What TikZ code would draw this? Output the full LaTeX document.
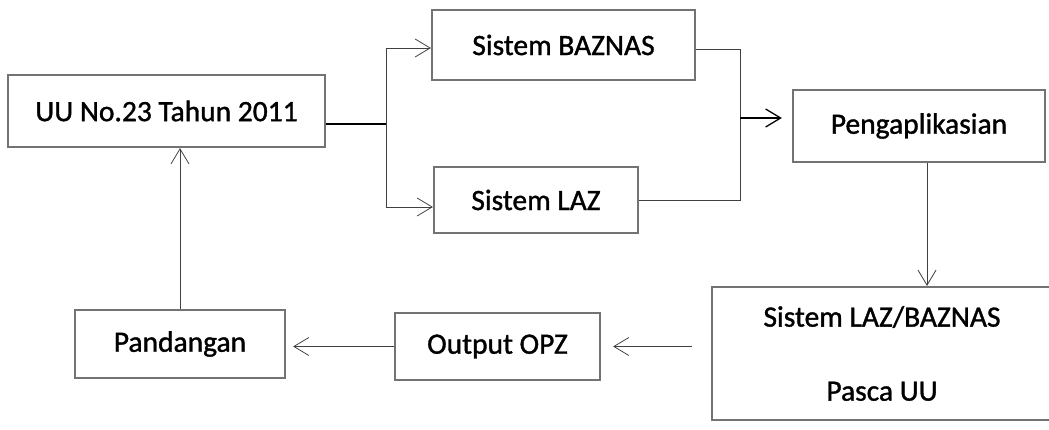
\documentclass[tikz,border=0pt]{standalone}
\usepackage{fontspec}
\setmainfont{Carlito}[BoldFont=Carlito, BoldFeatures={FakeBold=1.2}]
\usepackage{tikz}
\usetikzlibrary{arrows.meta, positioning, calc}

\tikzstyle{box} = [
  rectangle, draw=black!55, line width=2.2pt, fill=white,
  text centered, font=\fontsize{29.5}{36}\selectfont\bfseries
]
\tikzstyle{arrow} = [-{Straight Barb[length=15pt, width=18pt]}, line width=0.8pt, black!75]
\tikzstyle{line} = [line width=0.8pt, black!75]

\begin{document}
\begin{tikzpicture}[x=1pt, y=-1pt]

  \useasboundingbox[fill=white] (0, 0) rectangle (1049, 430);

  \node[box, minimum width=317pt, minimum height=72pt] (uu) at (166.5, 111) {UU No.23 Tahun 2011};
  \node[box, minimum width=263pt, minimum height=70pt] (baznas) at (563.5, 45) {Sistem BAZNAS};
  \node[box, minimum width=204pt, minimum height=66pt] (laz) at (536, 200) {Sistem LAZ};
  \node[box, minimum width=252pt, minimum height=72pt] (peng) at (919, 126) {Pengaplikasian};
  \node[box, minimum width=340pt, minimum height=133pt, align=center,
        font=\fontsize{29.5}{74}\selectfont\bfseries] (pasca) at (882, 353.5) {Sistem LAZ/BAZNAS\\Pasca UU};
  \node[box, minimum width=210pt, minimum height=68pt] (pand) at (180, 344) {Pandangan};
  \node[box, minimum width=205pt, minimum height=67pt] (opz) at (497.5, 346.5) {Output OPZ};

  \coordinate (split) at (386, 124);
  \coordinate (merge) at (740, 118);

  \draw[line, line width=1.4pt, black] (uu.east |- split) -- (split);
  \draw[arrow] (split) |- ([yshift=-3pt]baznas.west);
  \draw[arrow] (split) |- ([yshift=-7pt]laz.west);

  \draw[line] ([yshift=-4pt]baznas.east) -| (merge);
  \draw[line] (laz.east) -| (merge);
  \draw[arrow, line width=1.3pt, black, shorten >=10pt] (merge) -- ([yshift=8pt]peng.west);

  \draw[arrow] ([xshift=8pt]peng.south) -- ([xshift=8pt]peng.south |- pasca.north);
  \draw[arrow, shorten <=19pt, shorten >=12pt] (opz.east -| pasca.west) -- (opz.east);
  \draw[arrow, shorten >=7pt] (opz.west) -- (pand.east |- opz.west);
  \draw[arrow] (pand.north) -- (pand.north |- uu.south);

\end{tikzpicture}
\end{document}
